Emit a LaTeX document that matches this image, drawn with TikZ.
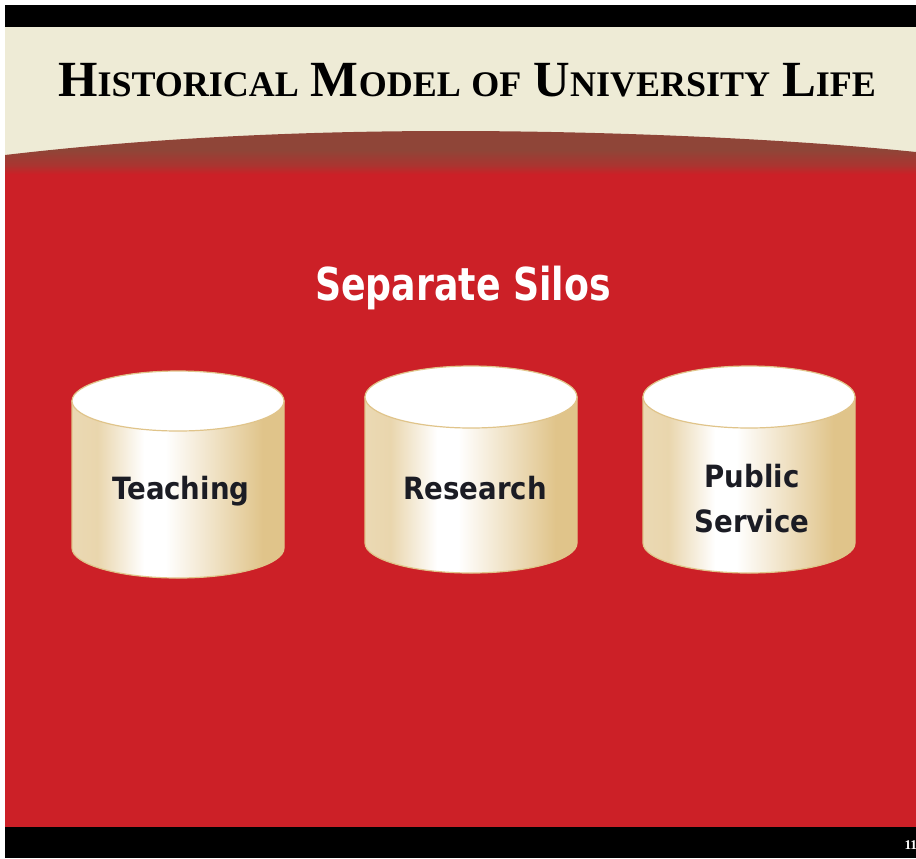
\documentclass[tikz,border=0pt]{standalone}
\usepackage{fontspec}
\setmainfont{DejaVu Sans Condensed}
\newfontfamily\titlefont{Liberation Serif}
\definecolor{slidered}{HTML}{CC2027}
\definecolor{slidecream}{HTML}{EEEBD6}
\definecolor{curvebrown}{HTML}{8F4538}
\definecolor{silotan}{HTML}{E0C48A}
\definecolor{silotext}{HTML}{1B1C24}
\pgfdeclarehorizontalshading{siloshade}{100bp}{
  color(0bp)=(silotan!65!white); color(25bp)=(silotan!65!white);
  color(31bp)=(silotan!70!white); color(42bp)=(white); color(47bp)=(white);
  color(70bp)=(silotan); color(100bp)=(silotan)}
\pgfdeclareverticalshading{curveshade}{100bp}{
  color(0bp)=(slidered); color(27bp)=(slidered);
  color(37bp)=(curvebrown!55!slidered); color(54bp)=(curvebrown); color(100bp)=(curvebrown)}
\tikzset{every picture/.style={line width=0.75pt}}
\tikzset{
  siloside/.style={draw=silotan,line width=0.9pt,shading=siloshade},
  silotop/.style={draw=silotan,line width=0.9pt,fill=white},
  silolabel/.style={anchor=center,inner sep=0.75pt,text=silotext,font=\fontsize{23}{33.75}\selectfont\bfseries,align=center}
}
\newcommand{\capbig}[1]{{\fontsize{38}{38}\selectfont #1}}
\newcommand{\capsmall}[1]{{\fontsize{27}{38}\selectfont #1}}

\begin{document}
\begin{tikzpicture}[x=0.75pt,y=0.75pt,yscale=-1,xscale=1]
\useasboundingbox (0,0) rectangle (916,858);
\clip (0,0) rectangle (916,858);

%Shape: Top bar
\fill [black] (5,5) rectangle (916,27);
%Shape: Title band
\fill [slidecream] (5,27) rectangle (916,176);
%Shape: Red ground
\fill [slidered] (5,175) rectangle (916,828);
%Shape: Curve
\path [shading=curveshade]
  (5,155) .. controls (150,138) and (300,131) .. (450,131) .. controls (600,131) and (780,138) .. (916,152) -- (916,176) -- (5,176) -- cycle ;
%Shape: Bottom bar
\fill [black] (5,827) rectangle (916,858);

%Shape: Silo 1
\draw [siloside] (72,401) -- (72,548) arc [start angle=180,end angle=0,x radius=106,y radius=30] -- (284,401) -- cycle ;
\draw [silotop] (178,401) ellipse [x radius=106,y radius=30] ;
%Shape: Silo 2
\draw [siloside] (365,397) -- (365,543) arc [start angle=180,end angle=0,x radius=106,y radius=30] -- (577,397) -- cycle ;
\draw [silotop] (471,397) ellipse [x radius=106,y radius=31] ;
%Shape: Silo 3
\draw [siloside] (643,397) -- (643,543) arc [start angle=180,end angle=0,x radius=106,y radius=30] -- (855,397) -- cycle ;
\draw [silotop] (749,397) ellipse [x radius=106,y radius=31] ;

% Text Node
\node (title) at (467,80) [anchor=center,inner sep=0.75pt] {\titlefont\bfseries\capbig{H}\capsmall{ISTORICAL}\hspace{9pt}\capbig{M}\capsmall{ODEL}\hspace{8pt}\capsmall{OF}\hspace{9pt}\capbig{U}\capsmall{NIVERSITY}\hspace{9pt}\capbig{L}\capsmall{IFE}};
% Text Node
\node (heading) at (463,288) [anchor=center,inner sep=0.75pt,text=white] {\scalebox{0.89}[1]{\fontsize{34}{42}\selectfont\bfseries Separate Silos}};
% Text Node
\node (teaching) at (181,491) [silolabel] {Teaching};
% Text Node
\node (research) at (475,488) [silolabel] {Research};
% Text Node
\node (service) at (752,499) [silolabel] {Public\\Service};
% Text Node
\node (pagenum) at (904,845) [anchor=west,inner sep=0pt,text=white] {\titlefont\bfseries\fontsize{10}{10}\selectfont 11};

\end{tikzpicture}
\end{document}
